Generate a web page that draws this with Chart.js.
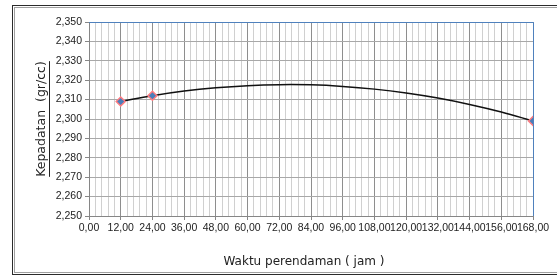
<!DOCTYPE html>
<html>
<head>
<meta charset="utf-8">
<script src="https://cdn.jsdelivr.net/npm/chart.js@4"></script>
<style>
  html, body { margin: 0; padding: 0; background: #fff; }
  #wrap { width: 557px; height: 278px; }
</style>
</head>
<body>
<div id="wrap"><canvas id="chart" width="557" height="278"></canvas></div>
<script>
// measured points
const hours = [12, 24, 168];
const density = [2.309, 2.312, 2.299];

// trend line (poly order 2)
const trendHours = [12, 24, 36, 48, 60, 72, 84, 96, 108, 120, 132, 144, 156, 168];
const trendDensity = [2.3090, 2.3120, 2.3144, 2.3161, 2.3172, 2.3177, 2.3176, 2.3168, 2.3154, 2.3134, 2.3108, 2.3075, 2.3036, 2.2990];

const xTickLabels = ['0,00', '12,00', '24,00', '36,00', '48,00', '60,00', '72,00', '84,00', '96,00', '108,00', '120,00', '132,00', '144,00', '156,00', '168,00'];
const yTickLabels = ['2,250', '2,260', '2,270', '2,280', '2,290', '2,300', '2,310', '2,320', '2,330', '2,340', '2,350'];

const xTitle = 'Waktu perendaman ( jam )';
const yTitle = 'Kepadatan  (gr/cc)';

function isMajor(v) {
  return Math.abs(v / 12 - Math.round(v / 12)) < 1e-6;
}

const ctx = document.getElementById('chart').getContext('2d');

new Chart(ctx, {
  type: 'scatter',
  data: {
    datasets: [
      {
        label: 'data',
        data: hours.map((h, i) => ({ x: h, y: density[i] })),
        pointStyle: 'rectRot',
        pointRadius: 4.5,
        pointBackgroundColor: '#4a7ebb',
        pointBorderColor: '#ff7c80',
        pointBorderWidth: 1.5,
        showLine: false
      },
      {
        label: 'trend',
        data: trendHours.map((h, i) => ({ x: h, y: trendDensity[i] })),
        showLine: true,
        borderColor: '#111111',
        borderWidth: 1.5,
        pointRadius: 0,
        tension: 0.4,
        fill: false
      }
    ]
  },
  options: {
    responsive: false,
    animation: false,
    layout: { padding: { top: 22, right: 24, left: 0, bottom: 0 } },
    scales: {
      x: {
        type: 'linear',
        min: 0,
        max: 168,
        afterFit: s => { s.height = 62; },
        afterBuildTicks: s => {
          // minor grid every 2.4 h, labels every 12 h
          const t = [];
          for (let i = 0; i <= 70; i++) t.push({ value: i * 2.4 });
          s.ticks = t;
        },
        border: { color: '#868686', width: 1 },
        grid: {
          color: c => isMajor(c.tick.value) ? '#8e8e8e' : '#d0d0d0',
          tickColor: c => isMajor(c.tick.value) ? '#868686' : 'rgba(0,0,0,0)',
          tickLength: 4
        },
        ticks: {
          autoSkip: false,
          maxRotation: 0,
          minRotation: 0,
          padding: 2,
          color: '#222',
          font: { family: 'Liberation Sans', size: 10.5 },
          callback: v => isMajor(v) ? xTickLabels[Math.round(v / 12)] : ''
        }
      },
      y: {
        min: 2.25,
        max: 2.35,
        afterFit: s => { s.width = 89; },
        afterBuildTicks: s => {
          s.ticks = yTickLabels.map((l, i) => ({ value: 2.25 + i * 0.01 }));
        },
        border: { color: '#868686', width: 1 },
        grid: { color: '#a8a8a8', tickColor: '#868686', tickLength: 4 },
        ticks: {
          padding: 3,
          color: '#222',
          font: { family: 'Liberation Sans', size: 10.5 },
          callback: (v, i) => yTickLabels[i]
        }
      }
    },
    plugins: {
      legend: { display: false },
      tooltip: { enabled: false }
    }
  },
  plugins: [{
    id: 'frameAndTitles',
    afterDatasetsDraw(chart) {
      const c = chart.ctx;
      const a = chart.chartArea;
      c.save();
      // blue top and right plot border
      c.strokeStyle = '#4f81bd';
      c.lineWidth = 1;
      c.beginPath();
      c.moveTo(a.left, a.top + 0.5);
      c.lineTo(a.right + 0.5, a.top + 0.5);
      c.lineTo(a.right + 0.5, a.bottom);
      c.stroke();
      c.restore();
    },
    afterDraw(chart) {
      const c = chart.ctx;
      const a = chart.chartArea;
      c.save();
      // outer chart frame (double line)
      c.lineWidth = 1;
      c.strokeStyle = '#2b2b2b';
      c.strokeRect(12.5, 5.5, 560, 269);
      c.strokeStyle = '#a0a0a0';
      c.strokeRect(14.5, 7.5, 560, 265);

      c.fillStyle = '#222';
      c.strokeStyle = '#222';
      c.font = '12px "DejaVu Sans"';
      c.textAlign = 'center';
      c.textBaseline = 'middle';
      c.fillText(xTitle, 304, 262);

      // y title, rotated and underlined
      c.font = '12.5px "DejaVu Sans"';
      c.translate(42, (a.top + a.bottom) / 2);
      c.rotate(-Math.PI / 2);
      c.fillText(yTitle, 0, 0);
      const w = c.measureText(yTitle).width;
      c.beginPath();
      c.moveTo(-w / 2, 7.5);
      c.lineTo(w / 2, 7.5);
      c.stroke();
      c.restore();
    }
  }]
});
</script>
</body>
</html>
